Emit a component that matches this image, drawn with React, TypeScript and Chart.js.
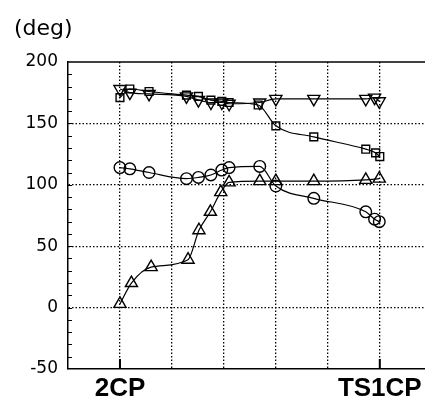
import React, { useEffect, useRef } from 'react';
import { Chart, registerables } from 'chart.js';

Chart.register(...registerables);

// ---- data ----
const xTickValues = [-1, 0, 1, 2, 3, 4, 5];
const xTickNames = ['', '2CP', '', '', '', '', 'TS1CP'];
const yTickValues = [-50, 0, 50, 100, 150, 200];
const yUnitLabel = '(deg)';

const squareX = [0, 0.19, 0.56, 1.28, 1.51, 1.75, 1.96, 2.1, 2.66, 3.0, 3.73, 4.73, 4.92, 5.0];
const squareY = [171, 178, 176, 173, 172, 169, 168, 167, 165, 148, 139, 129, 126, 123];

const invTriX = [0, 0.19, 0.56, 1.28, 1.51, 1.75, 1.96, 2.1, 2.69, 3.0, 3.73, 4.73, 4.9, 4.99];
const invTriY = [178, 175, 174, 172, 169, 167, 167, 166, 167, 170, 170, 170, 171, 168];

const circleX = [0, 0.19, 0.56, 1.28, 1.51, 1.75, 1.96, 2.1, 2.69, 3.0, 3.73, 4.73, 4.9, 4.99];
const circleY = [114, 113, 110, 105, 106, 108, 112, 114, 115, 99, 89, 78, 72, 70];

const triX = [0, 0.22, 0.6, 1.31, 1.52, 1.74, 1.94, 2.1, 2.69, 3.0, 3.73, 4.73, 4.99];
const triY = [3, 20, 33, 39, 63, 78, 94, 102, 103, 103, 103, 104, 105];

const pts = (xs: number[], ys: number[]) => xs.map((x, i) => ({ x, y: ys[i] }));

const extras = {
  id: 'extras',
  afterDraw(chart: any) {
    const { ctx, chartArea: a, scales } = chart;
    const x = scales.x;
    const y = scales.y;
    ctx.save();
    ctx.strokeStyle = '#000';
    // top frame line
    ctx.lineWidth = 1.5;
    ctx.beginPath();
    ctx.moveTo(a.left, a.top);
    ctx.lineTo(a.right, a.top);
    ctx.stroke();
    // minor ticks on left axis
    ctx.lineWidth = 1;
    ctx.beginPath();
    for (let v = -40; v < 200; v += 10) {
      const py = Math.round(y.getPixelForValue(v)) + 0.5;
      ctx.moveTo(a.left, py);
      ctx.lineTo(a.left + 4, py);
    }
    ctx.stroke();
    // bottom axis ticks at labelled positions
    ctx.lineWidth = 2;
    ctx.beginPath();
    xTickValues.forEach((v, i) => {
      if (!xTickNames[i]) return;
      const px = x.getPixelForValue(v);
      ctx.moveTo(px, a.bottom);
      ctx.lineTo(px, a.bottom - 10);
    });
    ctx.stroke();
    // unit label
    ctx.fillStyle = '#000';
    ctx.font = '22px "DejaVu Sans"';
    ctx.textBaseline = 'alphabetic';
    ctx.textAlign = 'left';
    ctx.fillText(yUnitLabel, 14, 35);
    ctx.restore();
  },
};

export default function App() {
  const ref = useRef<HTMLCanvasElement | null>(null);

  useEffect(() => {
    document.body.style.margin = '0';
    const canvas = ref.current;
    if (!canvas) return;
    const common = {
      borderColor: '#000',
      borderWidth: 1.2,
      pointBorderColor: '#000',
      pointBackgroundColor: 'rgba(0,0,0,0)',
      pointBorderWidth: 1.4,
      cubicInterpolationMode: 'monotone' as const,
      fill: false,
      clip: false as const,
    };
    const chart = new Chart(canvas, {
      type: 'line',
      data: {
        datasets: [
          { ...common, label: 'square', data: pts(squareX, squareY), pointStyle: 'rect', pointRadius: 5.5 },
          { ...common, label: 'invtri', data: pts(invTriX, invTriY), pointStyle: 'triangle', pointRotation: 180, pointRadius: 7 },
          { ...common, label: 'circle', data: pts(circleX, circleY), pointStyle: 'circle', pointRadius: 5.8 },
          { ...common, label: 'tri', data: pts(triX, triY), pointStyle: 'triangle', pointRadius: 7 },
        ],
      },
      options: {
        animation: false,
        responsive: false,
        maintainAspectRatio: false,
        layout: { autoPadding: false, padding: { left: 0, right: 0, top: 62, bottom: 0 } },
        plugins: { legend: { display: false }, tooltip: { enabled: false } },
        scales: {
          x: {
            type: 'linear',
            min: -1,
            max: 5.87,
            afterBuildTicks: (s: any) => {
              s.ticks = xTickValues.map((v) => ({ value: v }));
            },
            afterFit: (s: any) => {
              s.height = 32;
              s.paddingLeft = 0;
              s.paddingRight = 0;
            },
            ticks: {
              autoSkip: false,
              maxRotation: 0,
              padding: 4,
              color: '#000',
              font: { family: '"Liberation Sans", Arial', size: 26, weight: 'bold' },
              callback: (v: any) => {
                const i = xTickValues.indexOf(Number(v));
                return i >= 0 ? xTickNames[i] : '';
              },
            },
            grid: {
              drawTicks: false,
              lineWidth: 1.3,
              color: (c: any) => (c.tick && c.tick.value === -1 ? 'rgba(0,0,0,0)' : '#000'),
            },
            border: { display: true, color: '#000', width: 1.5, dash: [1.5, 2] },
          },
          y: {
            type: 'linear',
            min: -50,
            max: 200,
            afterBuildTicks: (s: any) => {
              s.ticks = yTickValues.map((v) => ({ value: v }));
            },
            afterFit: (s: any) => {
              s.width = 68;
            },
            ticks: {
              padding: 10,
              color: '#000',
              font: { family: '"DejaVu Sans"', size: 17 },
            },
            grid: {
              drawTicks: false,
              lineWidth: 1.3,
              color: (c: any) =>
                c.tick && (c.tick.value === -50 || c.tick.value === 200) ? 'rgba(0,0,0,0)' : '#000',
            },
            border: { display: true, color: '#000', width: 1.5, dash: [1.5, 2] },
          },
        },
      },
      plugins: [extras],
    });
    return () => chart.destroy();
  }, []);

  return (
    <div style={{ width: 425, height: 401 }}>
      <canvas ref={ref} width={425} height={401} style={{ display: 'block' }} />
    </div>
  );
}
